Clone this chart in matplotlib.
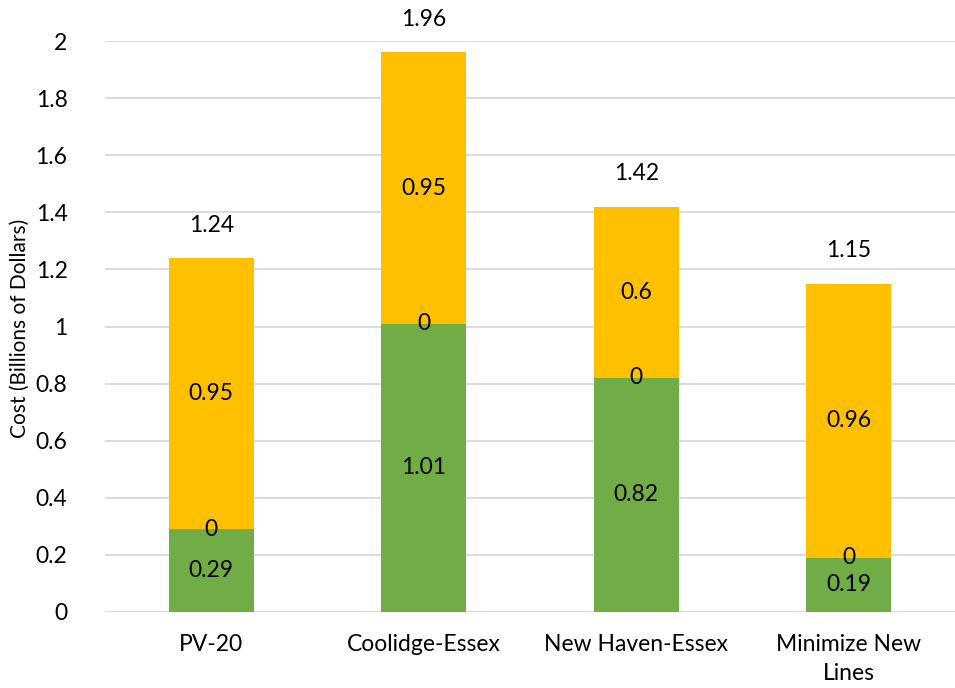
import matplotlib
matplotlib.use('Agg')
import matplotlib.pyplot as plt
import numpy as np

plt.rcParams['font.family'] = ['Lato', 'DejaVu Sans']

categories = ['PV-20', 'Coolidge-Essex', 'New Haven-Essex', 'Minimize New\nLines']
green_vals = [0.29, 1.01, 0.82, 0.19]
zero_vals = [0, 0, 0, 0]
orange_vals = [0.95, 0.95, 0.6, 0.96]
totals = [1.24, 1.96, 1.42, 1.15]

fig = plt.figure(figsize=(9.55, 6.88), dpi=100)
ax = fig.add_axes([105 / 955, 1 - 612 / 688, 850 / 955, 571 / 688])

x = np.arange(len(categories))
w = 0.4
green = '#70AD47'
orange = '#FFC000'
fs = 16.5

ax.bar(x, green_vals, w, color=green, zorder=3)
bottom2 = np.array(green_vals) + np.array(zero_vals)
ax.bar(x, orange_vals, w, bottom=bottom2, color=orange, zorder=3)

for i in range(len(categories)):
    g = green_vals[i]
    o = orange_vals[i]
    ax.text(x[i], g / 2, f'{g:g}', ha='center', va='center', fontsize=fs, zorder=4)
    ax.text(x[i], g, '0', ha='center', va='center', fontsize=fs, zorder=4)
    ax.text(x[i], g + o / 2, f'{o:g}', ha='center', va='center', fontsize=fs, zorder=4)
    ax.text(x[i], totals[i] + 0.115, f'{totals[i]:g}', ha='center', va='center', fontsize=fs)

ax.set_xlim(-0.5, 3.5)
ax.set_ylim(0, 2)
ax.set_yticks(np.arange(0, 2.01, 0.2))
ax.set_yticklabels(['0', '0.2', '0.4', '0.6', '0.8', '1', '1.2', '1.4', '1.6', '1.8', '2'])
ax.set_xticks(x)
ax.set_xticklabels(categories, fontsize=fs, linespacing=1.45, va='top')
ax.tick_params(axis='y', labelsize=fs, length=0, pad=27)
ax.tick_params(axis='x', length=0, pad=16)
ax.grid(axis='y', color='#D9D9D9', linewidth=1.3, zorder=0)
for s in ax.spines.values():
    s.set_visible(False)

fig.text(20 / 955, 1 - 328 / 688, 'Cost (Billions of Dollars)', rotation=90,
         ha='center', va='center', fontsize=15)

fig.savefig('out.png', dpi=100)
